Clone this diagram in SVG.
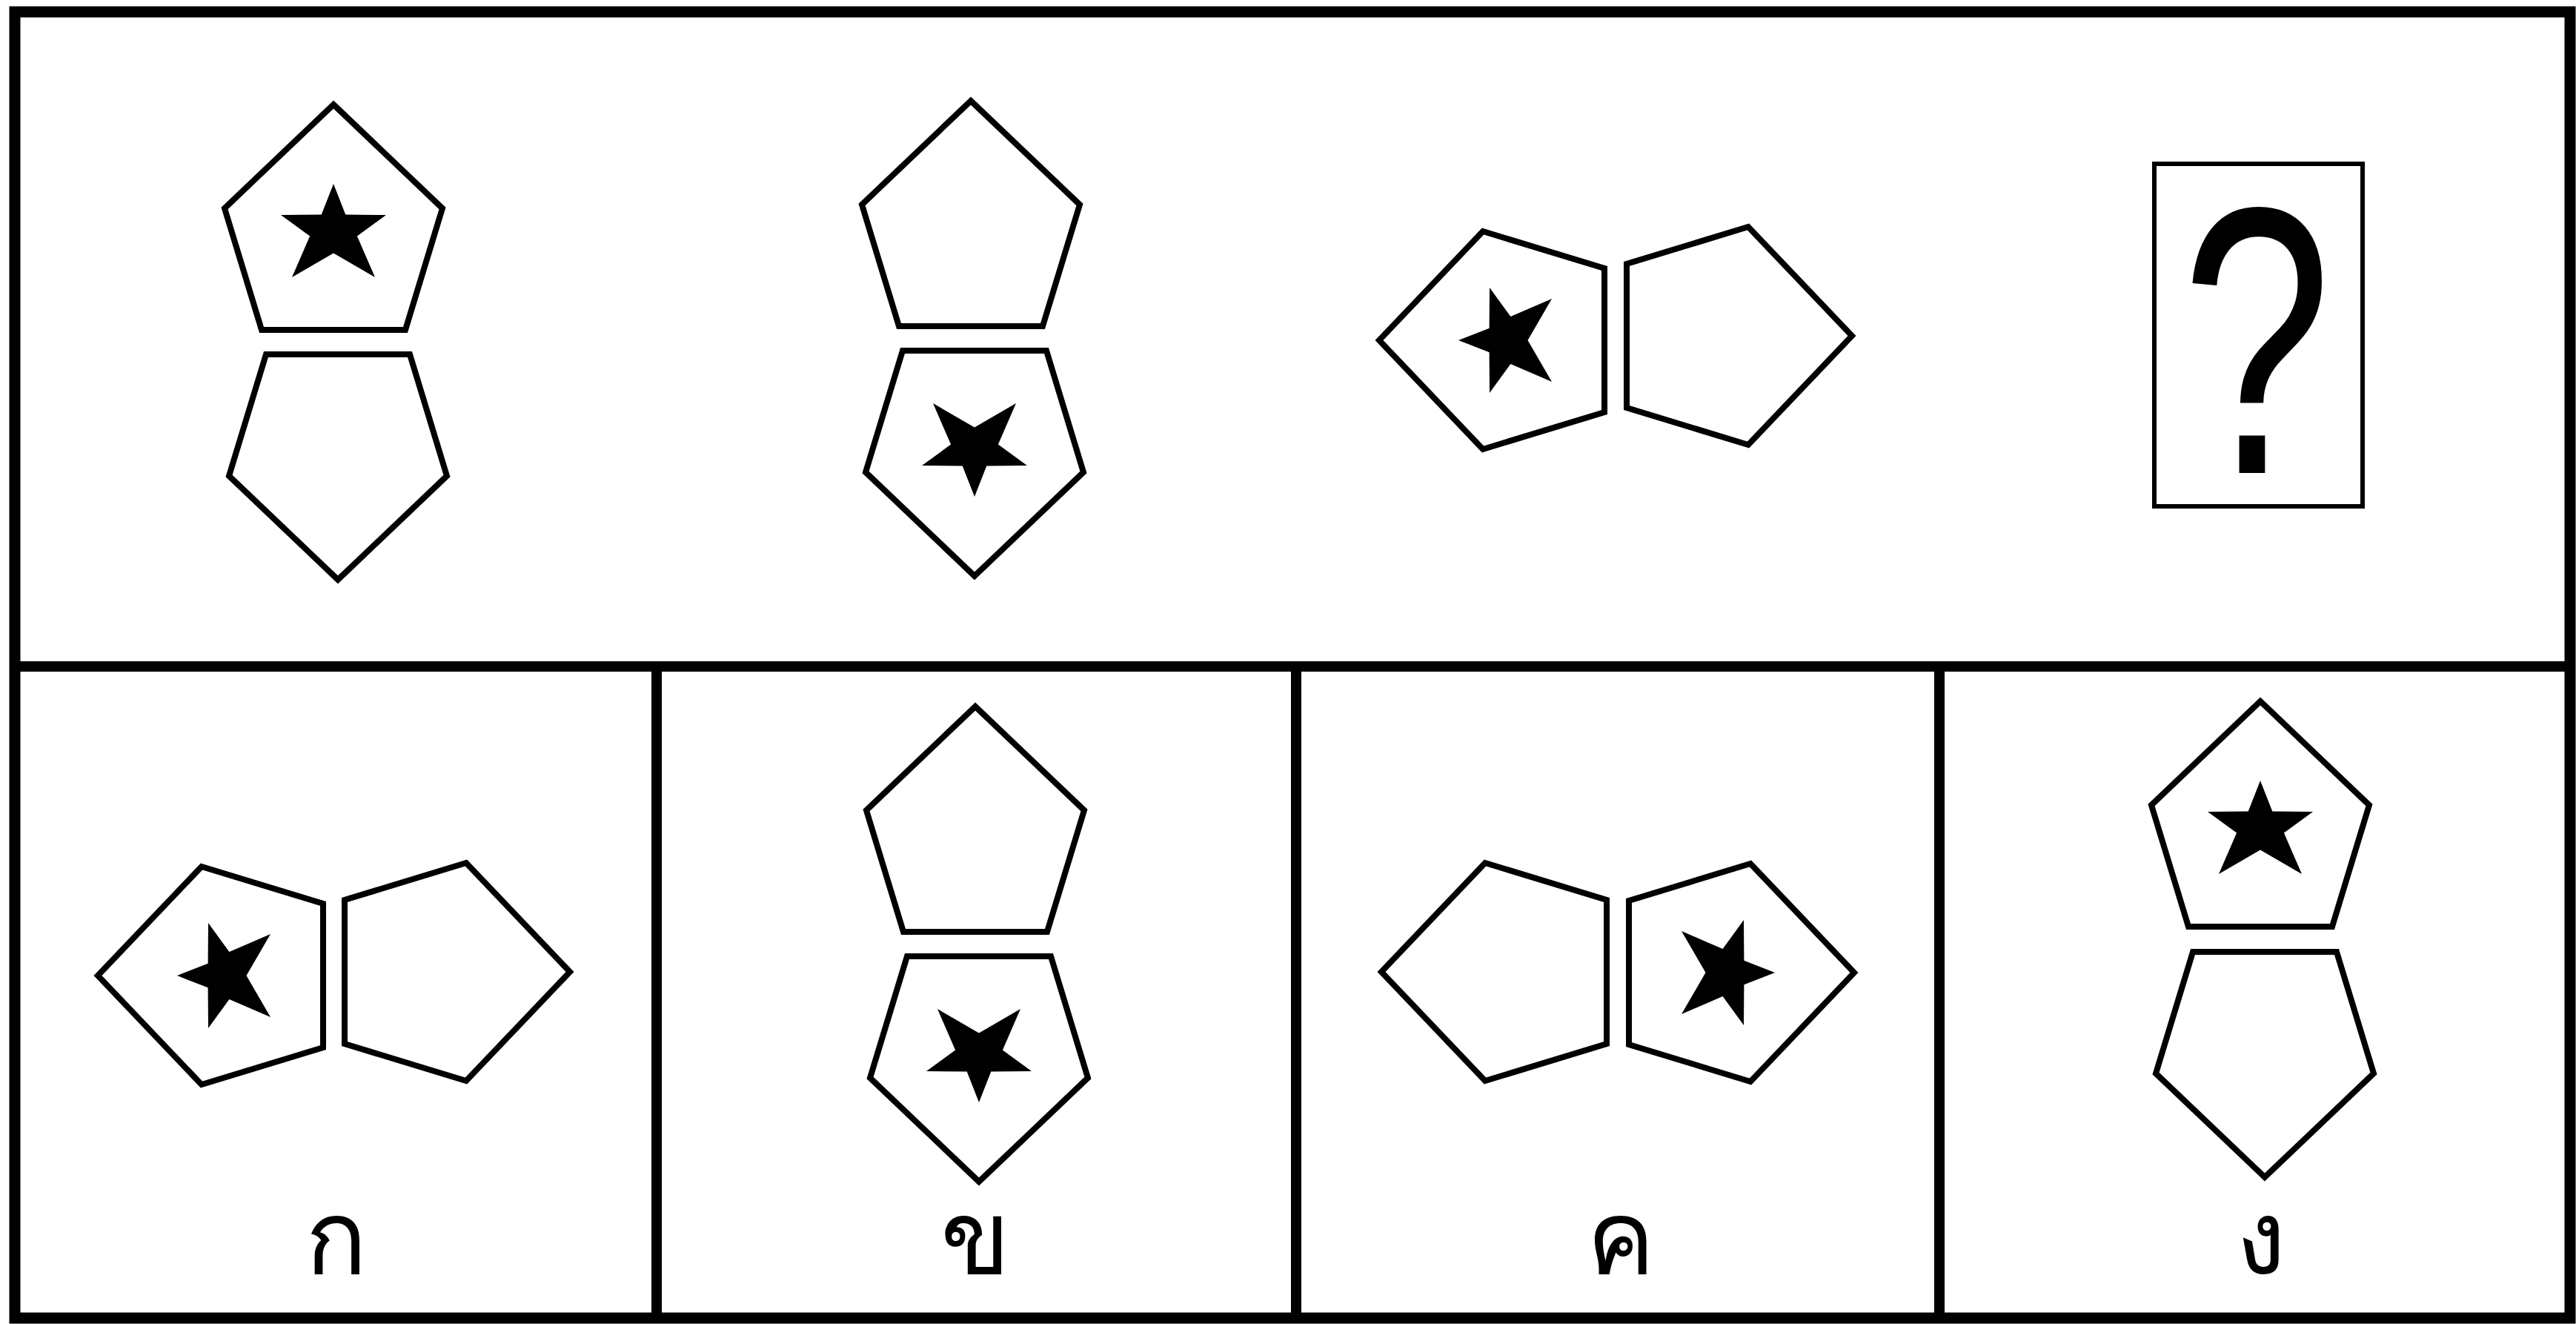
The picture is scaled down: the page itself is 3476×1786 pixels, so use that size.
<svg xmlns="http://www.w3.org/2000/svg" xmlns:xlink="http://www.w3.org/1999/xlink" width="3476" height="1786" viewBox="0 0 3476 1786">
<style>
.frame{fill:none;stroke:#000;stroke-width:15}
.div{fill:none;stroke:#000;stroke-width:14}
.pent{fill:#fff;stroke:#000;stroke-width:8;stroke-linejoin:miter}
.star{fill:#000;stroke:none}
.qbox{fill:#fff;stroke:#000;stroke-width:6}
.q{font-family:"Liberation Sans",Arial,sans-serif;font-size:514px;fill:#000}
.lbl{font-family:"DejaVu Sans","Noto Sans",sans-serif;font-size:138px;fill:#000;text-anchor:middle}
</style>
<defs>
<polygon id="pent" class="pent" points="0,-152 147,-12 97,152 -97,152 -147,-12"/>
<polygon id="star" class="star" points="0,-45 16.3,-3.4 71,-3 31.9,25.4 56,81 0,48.5 -56,81 -31.9,25.4 -71,-3 -16.3,-3.4"/>
</defs>
<rect x="0" y="0" width="3476" height="1786" fill="#fff"/>
<g id="grid">
<rect class="frame" x="20" y="16" width="3448" height="1762"/>
<line class="div" x1="20" y1="899" x2="3468" y2="899"/>
<line class="div" x1="886" y1="899" x2="886" y2="1778"/>
<line class="div" x1="1749" y1="899" x2="1749" y2="1778"/>
<line class="div" x1="2617" y1="899" x2="2617" y2="1778"/>
</g>
<g id="q1-top" transform="translate(450,293)"><use xlink:href="#pent"/><use xlink:href="#star"/></g>
<g id="q1-bottom" transform="translate(456,630) rotate(180)"><use xlink:href="#pent"/></g>
<g id="q2-top" transform="translate(1310,288)"><use xlink:href="#pent"/></g>
<g id="q2-bottom" transform="translate(1315,625) rotate(180)"><use xlink:href="#pent"/><use xlink:href="#star"/></g>
<g id="q3-left" transform="translate(2013,459) rotate(-90)"><use xlink:href="#pent"/><use xlink:href="#star"/></g>
<g id="q3-right" transform="translate(2347,453) rotate(90)"><use xlink:href="#pent"/></g>
<g id="q4-unknown">
<rect class="qbox" x="2907" y="221" width="281" height="462"/>
<text class="q" text-anchor="middle" transform="translate(3045,638) scale(0.71,1)">?</text>
</g>
<g id="optA">
<g transform="translate(284,1316) rotate(-90)"><use xlink:href="#pent"/><use xlink:href="#star"/></g>
<g transform="translate(617,1311) rotate(90)"><use xlink:href="#pent"/></g>
<text class="lbl" x="454" y="1718">ก</text>
</g>
<g id="optB">
<g transform="translate(1316,1105)"><use xlink:href="#pent"/></g>
<g transform="translate(1321,1442) rotate(180)"><use xlink:href="#pent"/><use xlink:href="#star"/></g>
<text class="lbl" x="1316" y="1718">ข</text>
</g>
<g id="optC">
<g transform="translate(2016,1311) rotate(-90)"><use xlink:href="#pent"/></g>
<g transform="translate(2350,1312) rotate(90)"><use xlink:href="#pent"/><use xlink:href="#star"/></g>
<text class="lbl" x="2187" y="1718">ค</text>
</g>
<g id="optD">
<g transform="translate(3050,1098)"><use xlink:href="#pent"/><use xlink:href="#star"/></g>
<g transform="translate(3056,1436) rotate(180)"><use xlink:href="#pent"/></g>
<text class="lbl" x="3050" y="1718">ง</text>
</g>
</svg>
